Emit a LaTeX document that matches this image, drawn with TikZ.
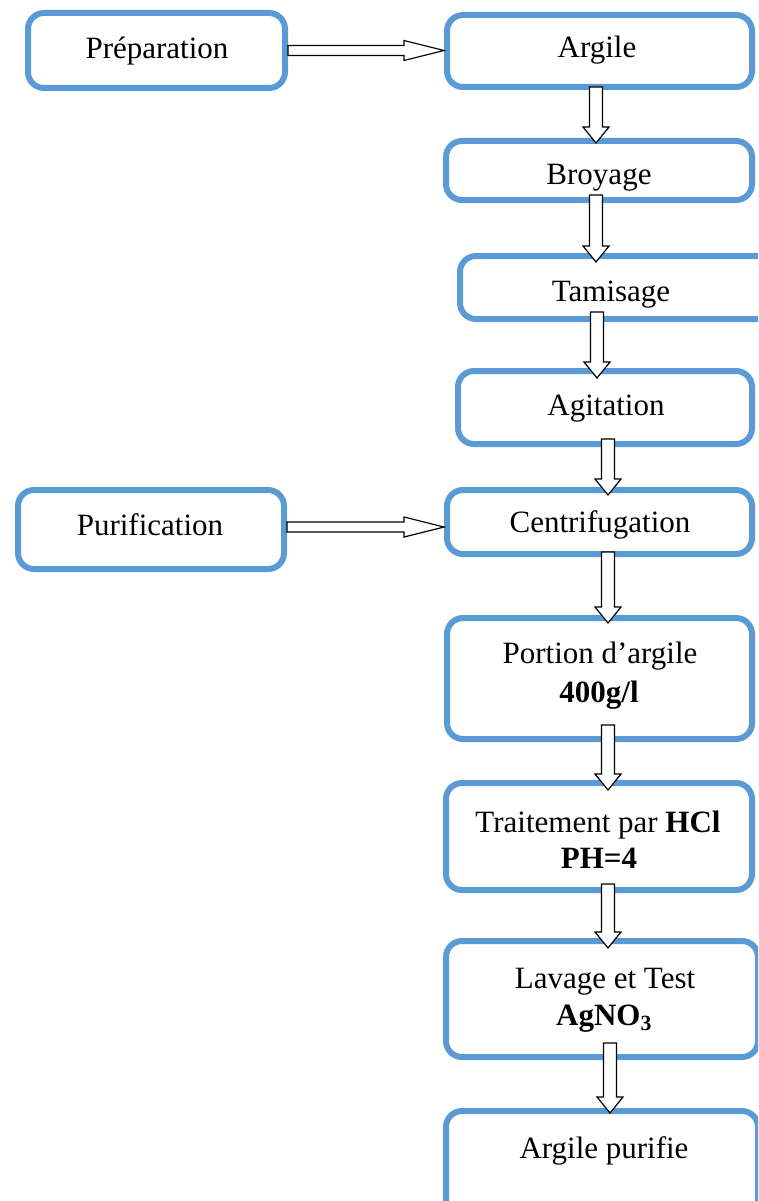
\documentclass[tikz,border=0pt]{standalone}
\usepackage{fontspec}
\setmainfont{Liberation Serif}
\usetikzlibrary{calc}
\definecolor{boxblue}{HTML}{5B9BD5}
\tikzset{
  box/.style={draw=boxblue, line width=6pt, rounded corners=16pt, fill=white, inner sep=0pt},
  lbl/.style={anchor=base, inner sep=0pt, font=\fontsize{31}{37}\selectfont},
  harrow/.style={draw=black, fill=white, line width=1.2pt, line join=miter},
}
\newcommand\downarr[2]{%
  \path[harrow] let \p1=(#1), \p2=(#2) in
    ({\x1-6.5pt},{\y1}) -- ({\x1+6.5pt},{\y1}) -- ({\x1+6.5pt},{\y2+16pt}) --
    ({\x1+13pt},{\y2+16pt}) -- ({\x1},{\y2}) -- ({\x1-13pt},{\y2+16pt}) --
    ({\x1-6.5pt},{\y2+16pt}) -- cycle;}
\newcommand\rightarr[2]{%
  \path[harrow] let \p1=(#1), \p2=(#2) in
    ({\x1},{\y1+5pt}) -- ({\x2-40pt},{\y1+5pt}) -- ({\x2-40pt},{\y1+10pt}) --
    ({\x2},{\y1}) -- ({\x2-40pt},{\y1-10pt}) -- ({\x2-40pt},{\y1-5pt}) --
    ({\x1},{\y1-5pt}) -- cycle;}
\begin{document}
\begin{tikzpicture}[x=1pt, y=-1pt]
\useasboundingbox (0,0) rectangle (758,1201);
\clip (0,0) rectangle (758,1201);
% boxes
\node[box, minimum width=257pt, minimum height=75pt] (prep) at (156.5,50.5) {};
\node[box, minimum width=266pt, minimum height=79pt] (purif) at (151,529.5) {};
\node[box, minimum width=305pt, minimum height=72pt] (argile) at (599.5,51) {};
\node[box, minimum width=306pt, minimum height=59pt] (broyage) at (599,170.5) {};
\node[box, minimum width=312pt, minimum height=63pt] (tamisage) at (616,287.5) {};
\node[box, minimum width=294pt, minimum height=73pt] (agitation) at (605,407.5) {};
\node[box, minimum width=305pt, minimum height=64pt] (centrif) at (599.5,522) {};
\node[box, minimum width=305pt, minimum height=121pt] (portion) at (599.5,678.5) {};
\node[box, minimum width=306pt, minimum height=107pt] (traitement) at (599,836.5) {};
\node[box, minimum width=312pt, minimum height=116pt] (lavage) at (602,999) {};
\node[box, minimum width=312pt, minimum height=126pt] (purifie) at (602,1174) {};
% connectors
\rightarr{prep.east}{argile.west}
\rightarr{$(purif.east)+(0,-2.5)$}{centrif.west}
\downarr{$(596,0 |- argile.south)+(0,-3)$}{$(596,0 |- broyage.north)+(0,5)$}
\downarr{$(596,0 |- broyage.south)+(0,-8)$}{$(596,0 |- tamisage.north)+(0,9)$}
\downarr{$(597,0 |- tamisage.south)+(0,-10)$}{$(597,0 |- agitation.north)+(0,10)$}
\downarr{$(608,0 |- agitation.south)+(0,-8)$}{$(608,0 |- centrif.north)+(0,8)$}
\downarr{$(608,0 |- centrif.south)+(0,-5)$}{$(608,0 |- portion.north)+(0,8)$}
\downarr{$(608,0 |- portion.south)+(0,-17)$}{$(608,0 |- traitement.north)+(0,10)$}
\downarr{$(608,0 |- traitement.south)+(0,-9)$}{$(608,0 |- lavage.north)+(0,10)$}
\downarr{$(610,0 |- lavage.south)+(0,-17)$}{$(610,0 |- purifie.north)+(0,5)$}
% labels
\node[lbl] (tprep) at (157,59) {Préparation};
\node[lbl] (targile) at (597,58) {Argile};
\node[lbl] (tbroyage) at (599,185) {Broyage};
\node[lbl] (ttamisage) at (611,301) {Tamisage};
\node[lbl] (tagitation) at (606,415) {Agitation};
\node[lbl] (tcentrif) at (600,532) {Centrifugation};
\node[lbl] (tpurif) at (150,535) {Purification};
\node[lbl] (tportion) at (600,663) {Portion d’argile};
\node[lbl] (tconc) at (599,702) {\textbf{400g/l}};
\node[lbl] (ttraitement) at (598,832) {Traitement par \textbf{HCl}};
\node[lbl] (tph) at (599,868) {\textbf{PH=4}};
\node[lbl] (tlavage) at (605,988) {Lavage et Test};
\node[lbl] (tagno) at (604,1025) {\textbf{AgNO\textsubscript{3}}};
\node[lbl] (tpurifie) at (604,1158) {Argile purifie};
\end{tikzpicture}
\end{document}
